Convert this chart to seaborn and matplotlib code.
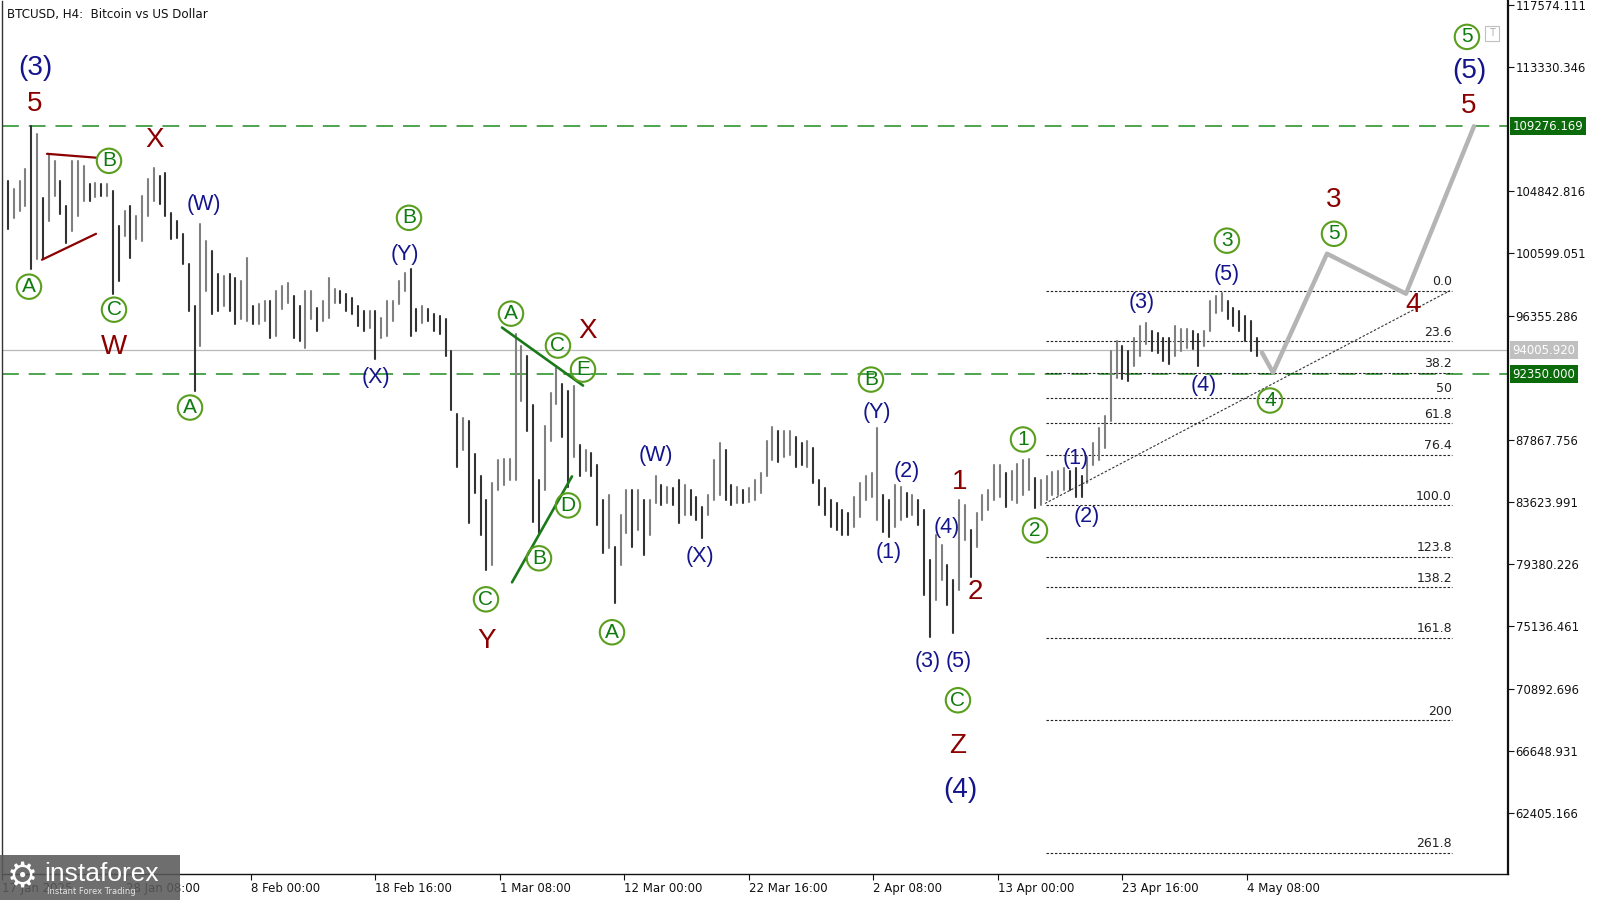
import numpy as np
import pandas as pd
import matplotlib
matplotlib.use("Agg")
import matplotlib.pyplot as plt
import matplotlib.transforms as mtransforms
from matplotlib.patches import Rectangle
import seaborn as sns

sns.set_style("white")
plt.rcParams["font.family"] = ["DejaVu Sans"]

# ---------------- data (prices in USD thousands, 12h samples) ----------------
START = pd.Timestamp("2025-01-17 16:00")
bar_highs = [
    105.90, 105.56, 105.01, 105.56, 106.38, 109.31, 108.76, 104.40, 107.40, 106.92,
    105.56, 103.85, 106.92, 106.92, 106.58, 105.35, 105.42, 105.35, 105.35, 104.88,
    102.49, 103.51, 103.85, 103.17, 104.53, 105.69, 106.44, 105.90, 106.10, 103.38,
    102.83, 101.94, 99.90, 97.03, 102.63, 101.47, 100.78, 99.22, 99.08, 99.22,
    98.94, 98.74, 100.31, 97.03, 97.17, 97.38, 97.38, 98.06, 98.40, 98.60,
    97.72, 97.03, 98.06, 98.06, 96.90, 97.38, 98.94, 98.19, 98.06, 97.85,
    97.58, 97.03, 96.69, 96.69, 96.69, 96.22, 97.38, 97.38, 98.74, 99.29,
    99.56, 96.83, 97.03, 96.83, 96.49, 96.35, 96.15, 93.97, 89.67, 89.40,
    89.19, 86.94, 85.44, 83.74, 84.90, 86.47, 86.60, 86.60, 95.13, 94.31,
    93.63, 90.22, 85.10, 88.85, 91.04, 92.81, 91.72, 91.24, 91.58, 87.49,
    87.15, 87.01, 86.13, 83.74, 84.08, 80.54, 82.72, 84.42, 84.42, 84.42,
    83.74, 83.74, 85.44, 84.76, 84.63, 84.56, 85.10, 84.76, 84.42, 83.94,
    83.26, 84.08, 86.47, 87.63, 87.15, 84.76, 84.63, 84.42, 84.56, 85.10,
    85.58, 87.83, 88.72, 88.51, 88.51, 88.51, 88.04, 87.69, 87.83, 87.29,
    85.10, 84.56, 83.74, 83.54, 83.06, 82.85, 83.94, 84.90, 85.44, 85.58,
    88.65, 84.08, 83.74, 84.76, 84.63, 84.22, 84.08, 83.74, 83.06, 79.65,
    81.35, 80.67, 79.31, 78.28, 83.74, 83.40, 81.69, 82.85, 84.08, 84.42,
    86.13, 86.13, 85.58, 85.78, 86.26, 86.47, 86.60, 85.24, 85.10, 85.44,
    85.65, 85.78, 85.92, 85.78, 85.92, 85.44, 86.67, 87.63, 88.65, 89.53,
    93.97, 94.65, 94.31, 93.97, 94.85, 95.67, 95.88, 95.33, 95.19, 94.85,
    94.85, 95.67, 95.47, 95.47, 95.33, 95.13, 95.33, 97.38, 97.72, 97.92,
    97.38, 96.90, 96.69, 96.35, 96.01, 94.85,
]
bar_lows = [
    104.19, 102.28, 103.03, 103.51, 103.85, 99.56, 100.24, 100.24, 102.83, 104.53,
    103.31, 101.33, 102.15, 103.17, 104.19, 104.19, 104.47, 104.53, 104.53, 97.85,
    98.74, 101.81, 100.31, 101.60, 101.47, 103.17, 104.19, 103.99, 103.17, 101.60,
    101.67, 99.90, 96.69, 91.24, 94.31, 98.06, 96.49, 96.69, 97.03, 96.69,
    95.81, 96.15, 96.01, 95.81, 95.81, 96.01, 94.85, 94.99, 96.83, 97.24,
    94.85, 94.65, 94.17, 96.15, 95.33, 96.01, 96.22, 97.24, 97.24, 96.69,
    96.49, 95.67, 95.33, 95.54, 93.42, 94.85, 94.99, 96.01, 97.17, 98.06,
    94.99, 95.33, 95.88, 96.01, 95.33, 95.13, 93.63, 89.88, 85.99, 87.15,
    82.17, 84.22, 81.35, 78.97, 79.31, 84.42, 84.76, 85.10, 85.10, 90.56,
    88.51, 82.24, 81.49, 84.42, 87.83, 90.35, 88.04, 84.63, 86.67, 85.44,
    85.78, 85.44, 82.03, 80.13, 80.47, 76.72, 79.31, 81.49, 80.54, 81.69,
    79.99, 81.35, 83.54, 83.40, 83.54, 83.40, 82.17, 82.72, 82.72, 82.38,
    81.15, 82.72, 83.74, 84.08, 83.74, 83.40, 83.54, 83.54, 83.60, 83.74,
    84.22, 85.44, 86.47, 86.33, 86.67, 86.81, 85.99, 86.13, 85.99, 84.90,
    83.40, 82.72, 81.90, 81.69, 81.35, 81.35, 81.90, 82.58, 83.74, 83.94,
    82.38, 81.56, 81.22, 81.90, 82.38, 82.58, 82.72, 82.03, 77.26, 74.40,
    76.92, 78.28, 76.58, 74.67, 77.60, 81.01, 78.49, 80.54, 82.38, 83.06,
    83.74, 83.94, 83.26, 83.74, 83.54, 84.08, 84.42, 83.19, 83.40, 83.74,
    84.08, 84.08, 84.42, 84.42, 83.94, 83.94, 84.90, 86.13, 86.47, 87.35,
    89.19, 92.13, 92.06, 91.92, 92.94, 93.63, 94.44, 93.97, 93.83, 93.28,
    93.08, 93.63, 93.97, 94.17, 94.10, 92.94, 94.31, 95.33, 96.56, 96.69,
    96.15, 95.67, 95.33, 94.65, 93.97, 93.63,
]

# forecast path (hours since START, price k)
proj_hours = [2590.8, 2613.5, 2724.5, 2886.9, 3026.8]
proj_prices = [93.83, 92.47, 100.58, 97.85, 109.28]

# horizontal levels
green_levels = [109276.169, 92350.000]
bid_level = 94005.920

# fibonacci grid
fib_high, fib_low = 98060.0, 83400.0
fib_ratios = [0.0, 23.6, 38.2, 50.0, 61.8, 76.4, 100.0, 123.8, 138.2, 161.8, 200.0, 261.8]
fib_texts = ["0.0", "23.6", "38.2", "50", "61.8", "76.4", "100.0", "123.8", "138.2", "161.8", "200", "261.8"]
fib_span_hours = [2146.7, 2981.5]

# trend / triangle lines: (h0, p0, h1, p1) in hours / price k
red_lines = [(92.5, 107.40, 195.3, 107.13), (82.2, 100.17, 193.3, 101.94)]
green_lines = [(1028.1, 95.54, 1194.7, 91.58), (1048.7, 78.15, 1172.0, 85.38)]
trend_line = (2144.6, 83.53, 2977.4, 98.06)

# price axis ticks
ytick_vals = [117574.111, 113330.346, 104842.816, 100599.051, 96355.286, 87867.756,
              83623.991, 79380.226, 75136.461, 70892.696, 66648.931, 62405.166]

# wave labels: text, hours, price k, style
wave_labels = [
    ("(3)", 67.9, 113.26, "navyL"), ("5", 67.9, 110.81, "red"),
    ("A", 55.5, 98.33, "circ"), ("B", 220.0, 106.92, "circ"), ("C", 230.3, 96.76, "circ"),
    ("W", 230.3, 94.24, "red"), ("X", 314.6, 108.35, "red"), ("(W)", 415.4, 103.92, "navy"),
    ("A", 386.6, 90.08, "circ"), ("B", 836.9, 103.03, "circ"), ("(Y)", 828.6, 100.51, "navy"),
    ("(X)", 769.0, 92.13, "navy"), ("A", 1046.6, 96.49, "circ"), ("C", 1143.2, 94.31, "circ"),
    ("X", 1204.9, 95.33, "red"), ("E", 1194.7, 92.67, "circ"), ("D", 1163.8, 83.40, "circ"),
    ("B", 1104.2, 79.79, "circ"), ("C", 995.2, 76.99, "circ"), ("Y", 997.3, 74.13, "red"),
    ("A", 1254.3, 74.74, "circ"), ("(W)", 1344.8, 86.81, "navy"), ("(X)", 1435.2, 79.92, "navy"),
    ("B", 1786.8, 91.99, "circ"), ("(Y)", 1799.2, 89.74, "navy"), ("(2)", 1860.9, 85.72, "navy"),
    ("(1)", 1823.9, 80.19, "navy"), ("1", 1969.8, 84.97, "red"), ("(4)", 1943.1, 81.90, "navy"),
    ("2", 2000.7, 77.47, "red"), ("(3)", 1904.1, 72.76, "navy"), ("(5)", 1967.8, 72.76, "navy"),
    ("C", 1965.7, 70.10, "circ"), ("Z", 1965.7, 66.97, "red"), ("(4)", 1969.8, 63.97, "navyL"),
    ("1", 2099.4, 87.90, "circ"), ("2", 2124.0, 81.69, "circ"), ("(1)", 2208.4, 86.60, "navy"),
    ("(2)", 2231.0, 82.65, "navy"), ("(3)", 2344.1, 97.24, "navy"), ("(4)", 2471.5, 91.58, "navy"),
    ("(5)", 2518.8, 99.15, "navy"), ("3", 2518.8, 101.47, "circ"), ("4", 2607.3, 90.56, "circ"),
    ("3", 2738.9, 104.26, "red"), ("5", 2738.9, 101.94, "circ"), ("4", 2901.3, 97.10, "red"),
    ("5", 3016.4, 110.67, "red"), ("(5)", 3016.4, 113.06, "navyL"), ("5", 3012.3, 115.38, "circ"),
]

# ---------------- build bar frame ----------------
times = pd.date_range(START, periods=len(bar_highs), freq="12h")
hours = (times - START) / pd.Timedelta(hours=1)
hi = np.array(bar_highs) * 1000
lo = np.array(bar_lows) * 1000
mid = (hi + lo) / 2
direction = ["up"] + ["up" if mid[i] >= mid[i - 1] else "down" for i in range(1, len(mid))]
rows = []
for i in range(len(hi)):
    rows.append((i, hours[i], lo[i], direction[i]))
    rows.append((i, hours[i], hi[i], direction[i]))
bars = pd.DataFrame(rows, columns=["bar", "hour", "price", "dir"])

# ---------------- figure ----------------
fig = plt.figure(figsize=(16, 9), dpi=100)
ax = fig.add_axes([2 / 1600, 26 / 900, 1506 / 1600, 873 / 900])
X_MAX = 3096.7
ax.set_xlim(0, X_MAX)
ax.set_ylim(58240, 117830)

sns.lineplot(data=bars, x="hour", y="price", units="bar", hue="dir",
             palette={"up": "#808080", "down": "#333333"}, estimator=None,
             legend=False, linewidth=1.5, sort=False, ax=ax)

# horizontal levels
for lv in green_levels:
    ax.axhline(lv, color="#1e8a1e", lw=1.1, dashes=(11, 6.5), zorder=1)
ax.axhline(bid_level, color="#b8b8b8", lw=0.9, zorder=1)

# fibo grid
for r, t in zip(fib_ratios, fib_texts):
    lvl = fib_high - r / 100.0 * (fib_high - fib_low)
    ax.plot(fib_span_hours, [lvl, lvl], color="#222222", lw=0.8, ls=(0, (2.2, 1.6)), zorder=1)
    ax.text(fib_span_hours[1], lvl + 180, t, ha="right", va="bottom", fontsize=9, color="#222222")

# trendline
ax.plot([trend_line[0], trend_line[2]], [trend_line[1] * 1000, trend_line[3] * 1000],
        color="#333333", lw=0.8, ls=(0, (2.2, 1.6)), zorder=2)
for h0, p0, h1, p1 in red_lines:
    ax.plot([h0, h1], [p0 * 1000, p1 * 1000], color="#8b0000", lw=1.6, zorder=3)
for h0, p0, h1, p1 in green_lines:
    ax.plot([h0, h1], [p0 * 1000, p1 * 1000], color="#1a7a1a", lw=1.9, zorder=3)

# forecast path
sns.lineplot(x=proj_hours, y=np.array(proj_prices) * 1000, color="#b4b4b4", lw=3.2,
             sort=False, estimator=None, ax=ax, zorder=4)

# wave labels
styles = {
    "navyL": dict(color="#14148c", fontsize=20),
    "navy": dict(color="#14148c", fontsize=15.5),
    "red": dict(color="#8b0000", fontsize=20),
    "circ": dict(color="#0f7b0f", fontsize=15,
                 bbox=dict(boxstyle="circle,pad=0.13", fc="none", ec="#5a9e1e", lw=1.5)),
}
for txt, h, p, kind in wave_labels:
    ax.text(h, p * 1000, txt, ha="center", va="center", family="Liberation Sans",
            zorder=6, clip_on=False, **styles[kind])

# axes styling
ax.spines["top"].set_visible(False)
ax.spines["left"].set_color("#333333")
ax.spines["left"].set_linewidth(1.0)
ax.spines["bottom"].set_color("#111111")
ax.spines["bottom"].set_linewidth(1.0)
ax.spines["right"].set_color("#111111")
ax.spines["right"].set_linewidth(1.6)
ax.set_xlabel("")
ax.set_ylabel("")

ax.yaxis.tick_right()
ax.set_yticks(ytick_vals)
ax.set_yticklabels([f"{v:.3f}" for v in ytick_vals])
ax.tick_params(axis="y", direction="out", length=4, width=0.8, pad=1.5, labelsize=8.4,
               colors="#111111", right=True, left=False)

tick_times = [START + pd.Timedelta(hours=256 * i) for i in range(11)]
tick_hours = [(t - START) / pd.Timedelta(hours=1) for t in tick_times]
tick_labels = ["17 Jan 2025"] + [f"{t.day} {t.strftime('%b %H:%M')}" for t in tick_times[1:]]
ax.set_xticks(tick_hours)
ax.set_xticklabels(tick_labels)
ax.tick_params(axis="x", direction="out", length=4, width=0.8, pad=2, labelsize=8.5,
               colors="#111111", bottom=True)
for lbl in ax.get_xticklabels():
    lbl.set_horizontalalignment("left")

# price boxes on the axis
trans = mtransforms.blended_transform_factory(ax.transAxes, ax.transData)
for lv in green_levels:
    ax.text(1.003, lv, f"{lv:.3f}", transform=trans, ha="left", va="center", fontsize=8.4,
            color="white", clip_on=False, zorder=7,
            bbox=dict(boxstyle="square,pad=0.2", fc="#0b6b0b", ec="none"))
ax.text(1.003, bid_level, f"{bid_level:.3f}", transform=trans, ha="left", va="center",
        fontsize=8.4, color="white", clip_on=False, zorder=7,
        bbox=dict(boxstyle="square,pad=0.2", fc="#c0c0c0", ec="none"))

# title
ax.text(0.003, 0.992, "BTCUSD, H4:  Bitcoin vs US Dollar", transform=ax.transAxes,
        ha="left", va="top", fontsize=8.6, color="#111111")

# small "T" box
fig.add_artist(Rectangle((1485 / 1600, 1 - 41 / 900), 14 / 1600, 15 / 900,
                         transform=fig.transFigure, fc="white", ec="#c0c0c0", lw=0.8, zorder=8))
fig.text(1492 / 1600, 1 - 33.5 / 900, "T", ha="center", va="center", fontsize=7, color="#b0b0b0", zorder=9)

# logo (semi-transparent, as in the reference)
fig.add_artist(Rectangle((0, 0), 180 / 1600, 45 / 900, transform=fig.transFigure,
                         fc="#5a5a5a", ec="none", alpha=0.88, zorder=10))
fig.text(22 / 1600, 22 / 900, "\u2699", ha="center", va="center", fontsize=25, color="white", zorder=11)
fig.text(44 / 1600, 26 / 900, "instaforex", ha="left", va="center", fontsize=19,
         color="white", family="Liberation Sans", zorder=11)
fig.text(47 / 1600, 8 / 900, "Instant Forex Trading", ha="left", va="center", fontsize=6,
         color="#e6e6e6", zorder=11)

fig.savefig("out.png", dpi=100)
